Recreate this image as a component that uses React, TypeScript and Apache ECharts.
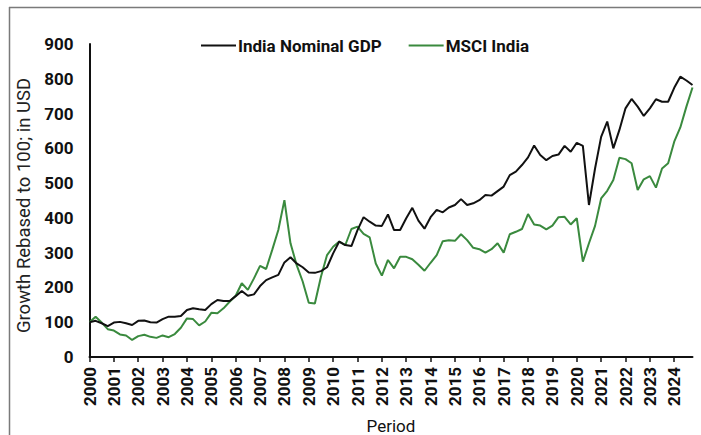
import React, { useEffect, useRef } from "react";
import * as echarts from "echarts";

const years = ["2000","2001","2002","2003","2004","2005","2006","2007","2008","2009","2010","2011","2012","2013","2014","2015","2016","2017","2018","2019","2020","2021","2022","2023","2024"];
const quarters = ["Q1", "Q2", "Q3", "Q4"];

const gdp = [100,104,97,89,99,101,97,92,104,105,100,99,109,116,116,118,135,140,137,135,152,164,161,161,175,190,176,180,204,221,229,236,272,287,269,258,243,242,247,258,298,332,322,319,365,402,389,378,377,410,365,365,399,429,392,369,402,423,416,430,437,454,437,442,451,466,464,477,490,523,533,552,574,608,581,566,578,582,607,590,616,607,437,542,633,677,600,653,715,742,720,693,715,741,734,734,774,806,795,782];

const msci = [100,116,99,80,76,65,62,49,60,64,58,55,62,57,66,84,111,109,91,102,127,126,140,159,176,212,193,226,262,253,308,365,451,327,265,217,156,154,231,293,317,332,322,368,375,354,344,269,234,279,255,288,288,281,265,248,271,293,333,336,334,353,336,314,310,300,310,327,300,353,360,368,411,381,378,367,378,402,403,381,399,274,327,377,456,478,509,573,569,557,480,511,520,487,542,557,619,660,720,775];

const seriesNames = ["India Nominal GDP", "MSCI India"];
const seriesColors = ["#111111", "#3a8a3e"];

export default function App() {
  const ref = useRef<HTMLDivElement>(null);
  useEffect(() => {
    if (!ref.current) return;
    const chart = echarts.init(ref.current, undefined, { renderer: "svg" });
    const categories: string[] = [];
    years.forEach((y) => quarters.forEach((q) => categories.push(y + " " + q)));
    const font = "Roboto";
    chart.setOption({
      animation: false,
      backgroundColor: "#ffffff",
      textStyle: { fontFamily: font },
      graphic: {
        elements: [
          { type: "line", silent: true, shape: { x1: 9, y1: 7.5, x2: 701, y2: 7.5 }, style: { stroke: "#7a7a7a", lineWidth: 1.5 } },
          { type: "line", silent: true, shape: { x1: 9.5, y1: 7, x2: 9.5, y2: 435 }, style: { stroke: "#7a7a7a", lineWidth: 1.5 } },
        ],
      },
      legend: {
        left: 196,
        top: 32,
        itemWidth: 35,
        itemHeight: 2,
        itemGap: 27,
        icon: "rect",
        textStyle: { fontFamily: font, fontWeight: "bold", fontSize: 17, color: "#111", padding: [0, 0, 0, -3] },
        data: seriesNames,
      },
      grid: { left: 89.5, right: 8.5, top: 44, bottom: 78, containLabel: false, outerBoundsMode: "none" },
      xAxis: {
        type: "category",
        data: categories,
        boundaryGap: false,
        name: "Period",
        nameLocation: "middle",
        nameGap: 60,
        nameTextStyle: { fontFamily: font, fontSize: 17, lineHeight: 17, color: "#111" },
        axisLine: { lineStyle: { color: "#111", width: 2 } },
        axisTick: { interval: 3, length: 5, lineStyle: { color: "#111", width: 1.5 } },
        axisLabel: {
          interval: 3,
          rotate: 90,
          margin: 10,
          fontFamily: font,
          fontWeight: "bold",
          fontSize: 17,
          color: "#111",
          formatter: (v: string) => v.slice(0, 4),
        },
        splitLine: { show: false },
      },
      yAxis: {
        type: "value",
        min: 0,
        max: 900,
        interval: 100,
        name: "Growth Rebased to 100; in USD",
        nameLocation: "middle",
        nameGap: 53,
        nameTextStyle: { fontFamily: font, fontSize: 18.5, color: "#222", padding: [0, 10, 0, 0] },
        axisLine: { show: true, lineStyle: { color: "#111", width: 2 } },
        axisTick: { show: false },
        axisLabel: { margin: 16, fontFamily: font, fontWeight: "bold", fontSize: 17, color: "#111" },
        splitLine: { show: false },
      },
      series: [
        { name: seriesNames[0], type: "line", data: gdp, showSymbol: false, lineStyle: { color: seriesColors[0], width: 2 }, itemStyle: { color: seriesColors[0] }, z: 3 },
        { name: seriesNames[1], type: "line", data: msci, showSymbol: false, lineStyle: { color: seriesColors[1], width: 2 }, itemStyle: { color: seriesColors[1] }, z: 2 },
      ],
    });
    return () => chart.dispose();
  }, []);
  return <div ref={ref} style={{ position: "fixed", left: 0, top: 0, width: 701, height: 435 }} />;
}
